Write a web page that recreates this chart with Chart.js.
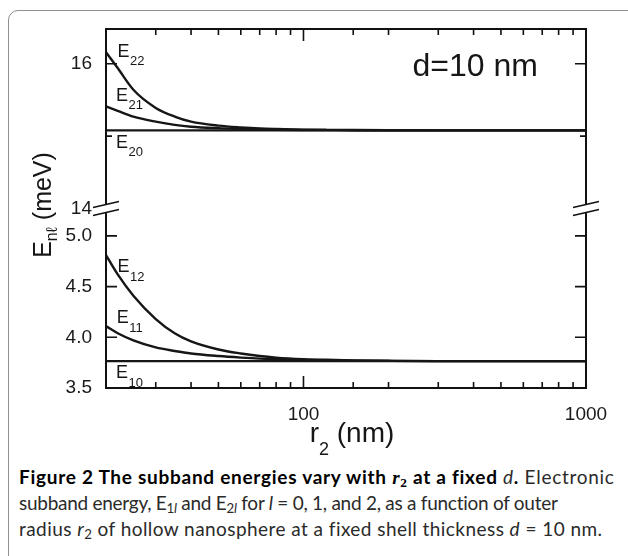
<!DOCTYPE html>
<html>
<head>
<meta charset="utf-8">
<script src="https://cdn.jsdelivr.net/npm/chart.js@4.4.1/dist/chart.umd.min.js"></script>
<style>
  body { margin: 0; width: 628px; height: 556px; overflow: hidden; position: relative; background: #fff; }
  #box { position: absolute; left: 8px; top: 10px; width: 660px; height: 600px; border: 1.4px solid #8f8f8f; border-radius: 10px; }
  #wrap { position: absolute; left: 0; top: 0; width: 628px; height: 462px; }
  #caption { position: absolute; left: 19px; top: 464px; white-space: nowrap; font-family: Lato, "Noto Sans", sans-serif;
             font-size: 19px; line-height: 26px; color: #2a2a2a; }
  #caption div { height: 26px; }
  #caption b { color: #000; }
  #caption .rr { font-family: "Liberation Serif", serif; font-style: italic; font-weight: bold; }
  #caption .s2 { font-family: "Liberation Serif", serif; font-weight: bold; }
  #caption sub { font-size: 0.7em; vertical-align: -0.25em; line-height: 0; }
</style>
</head>
<body>
<div id="box"></div>
<div id="wrap"><canvas id="chart"></canvas></div>
<div id="caption">
<div style="letter-spacing:0.72px"><b>Figure 2 The subband energies vary with <span class="rr">r</span><sub class="s2">2</sub> at a fixed </b><i>d</i><b>.</b> Electronic</div>
<div style="letter-spacing:-0.27px">subband energy, E<sub>1<i>l</i></sub> and E<sub>2<i>l</i></sub> for <i>l</i> = 0, 1, and 2, as a function of outer</div>
<div style="letter-spacing:0.44px">radius <i>r</i><sub>2</sub> of hollow nanosphere at a fixed shell thickness <i>d</i> = 10 nm.</div>
</div>
<script>
// outer radius r2 (nm)
const radius = [20, 22, 25, 30, 35, 40, 50, 60, 70, 80, 100, 120, 150, 200, 300, 500, 1000];

// upper panel (meV)
const e22 = [16.16, 15.94, 15.64, 15.39, 15.27, 15.20, 15.145, 15.12, 15.105, 15.098, 15.09, 15.087, 15.084, 15.082, 15.08, 15.08, 15.08];
const e21 = [15.41, 15.35, 15.27, 15.20, 15.155, 15.13, 15.11, 15.10, 15.093, 15.089, 15.085, 15.083, 15.082, 15.081, 15.08, 15.08, 15.08];
const e20 = [15.08, 15.08, 15.08, 15.08, 15.08, 15.08, 15.08, 15.08, 15.08, 15.08, 15.08, 15.08, 15.08, 15.08, 15.08, 15.08, 15.08];

// lower panel (meV)
const e12 = [4.81, 4.62, 4.41, 4.18, 4.04, 3.96, 3.88, 3.84, 3.815, 3.80, 3.785, 3.778, 3.772, 3.768, 3.765, 3.765, 3.765];
const e11 = [4.11, 4.04, 3.97, 3.90, 3.865, 3.84, 3.815, 3.80, 3.79, 3.785, 3.778, 3.773, 3.770, 3.767, 3.765, 3.765, 3.765];
const e10 = [3.765, 3.765, 3.765, 3.765, 3.765, 3.765, 3.765, 3.765, 3.765, 3.765, 3.765, 3.765, 3.765, 3.765, 3.765, 3.765, 3.765];

// axes
const xRange = [20, 1000];
const yTopRange = [14, 16.48];
const yBotRange = [3.5, 5.27];
const xLabelTicks = [100, 1000];
const yTopLabelTicks = [14, 16];
const yBotLabelTicks = [3.5, 4.0, 4.5, 5.0];

// curve names, placed in data coordinates
const curveLabels = [
  { sub: "22", x: 21.97, y: 16.10, axis: "yTop" },
  { sub: "21", x: 21.7, y: 15.49, axis: "yTop" },
  { sub: "20", x: 21.7, y: 14.84, axis: "yTop" },
  { sub: "12", x: 21.97, y: 4.64, axis: "yBot" },
  { sub: "11", x: 21.83, y: 4.14, axis: "yBot" },
  { sub: "10", x: 21.7, y: 3.595, axis: "yBot" }
];
const note = { text: "d=10 nm", x: 243, y: 15.83, axis: "yTop" };

const FONT = '"Liberation Sans", Arial, sans-serif';
Chart.defaults.font.family = FONT;
Chart.defaults.color = "#1a1a1a";

const pts = vals => radius.map((r, i) => ({ x: r, y: vals[i] }));
const line = (vals, axis) => ({
  data: pts(vals),
  yAxisID: axis,
  borderColor: "#161616",
  borderWidth: 2.4,
  pointRadius: 0,
  cubicInterpolationMode: "monotone",
  fill: false
});

const frame = {
  id: "frame",
  afterDatasetsDraw(chart) {
    const { ctx, chartArea: a, scales } = chart;
    const xs = scales.x, yt = scales.yTop, yb = scales.yBot;
    const brk = yt.bottom;
    ctx.save();
    ctx.strokeStyle = "#111";
    ctx.lineWidth = 2;
    ctx.beginPath();
    ctx.moveTo(a.left - 1, a.top); ctx.lineTo(a.right + 1, a.top);
    ctx.moveTo(a.left - 1, a.bottom); ctx.lineTo(a.right + 1, a.bottom);
    [a.left, a.right].forEach(ax => {
      ctx.moveTo(ax, a.top); ctx.lineTo(ax, brk - 4);
      ctx.moveTo(ax, brk + 4); ctx.lineTo(ax, a.bottom);
    });
    ctx.stroke();

    // inward ticks
    ctx.lineWidth = 1.6;
    ctx.beginPath();
    xs.ticks.forEach(t => {
      const px = xs.getPixelForValue(t.value);
      if (px <= a.left + 1 || px >= a.right - 1) return;
      const len = xLabelTicks.includes(t.value) ? 12 : 6;
      ctx.moveTo(px, a.bottom); ctx.lineTo(px, a.bottom - len);
      ctx.moveTo(px, a.top); ctx.lineTo(px, a.top + len);
    });
    [[yt, yTopLabelTicks], [yb, yBotLabelTicks]].forEach(([s, major]) => {
      s.ticks.forEach(t => {
        const py = s.getPixelForValue(t.value);
        if (Math.abs(py - brk) < 3 || py >= a.bottom - 1 || py <= a.top + 1) return;
        const len = major.some(m => Math.abs(m - t.value) < 1e-6) ? 11 : 6;
        ctx.moveTo(a.left, py); ctx.lineTo(a.left + len, py);
        ctx.moveTo(a.right, py); ctx.lineTo(a.right - len, py);
      });
    });
    ctx.stroke();

    // axis break marks
    ctx.beginPath();
    [a.left, a.right].forEach(ax => {
      ctx.moveTo(ax - 13, brk - 1); ctx.lineTo(ax + 13, brk - 7);
      ctx.moveTo(ax - 13, brk + 7); ctx.lineTo(ax + 13, brk + 1);
    });
    ctx.stroke();
    ctx.restore();
  },
  afterDraw(chart) {
    const { ctx, scales } = chart;
    ctx.save();
    ctx.fillStyle = "#161616";
    ctx.textBaseline = "alphabetic";
    ctx.textAlign = "left";

    curveLabels.forEach(l => {
      const px = scales.x.getPixelForValue(l.x);
      const py = scales[l.axis].getPixelForValue(l.y);
      ctx.font = "18px " + FONT;
      ctx.fillText("E", px, py);
      const w = ctx.measureText("E").width;
      ctx.font = "13px " + FONT;
      ctx.fillText(l.sub, px + w + 0.5, py + 8.5);
    });

    ctx.font = "32px " + FONT;
    ctx.fillText(note.text, scales.x.getPixelForValue(note.x), scales[note.axis].getPixelForValue(note.y));

    // x title: r2 (nm)
    ctx.font = "28px " + FONT;
    const wr = ctx.measureText("r").width;
    const wn = ctx.measureText(" (nm)").width;
    ctx.font = "18px " + FONT;
    const w2 = ctx.measureText("2").width;
    const x0 = 352 - (wr + w2 + wn) / 2;
    const by = 442;
    ctx.font = "28px " + FONT;
    ctx.fillText("r", x0, by);
    ctx.font = "18px " + FONT;
    ctx.fillText("2", x0 + wr, by + 13);
    ctx.font = "28px " + FONT;
    ctx.fillText(" (nm)", x0 + wr + w2, by);

    // y title: E_nl (meV)
    ctx.translate(51, 205);
    ctx.rotate(-Math.PI / 2);
    ctx.font = "25px " + FONT;
    const wE = ctx.measureText("E").width;
    const wm = ctx.measureText(" (meV)").width;
    ctx.font = "16px " + FONT;
    const ws = ctx.measureText("n\u2113").width;
    const s0 = -(wE + ws + wm) / 2;
    ctx.font = "25px " + FONT;
    ctx.fillText("E", s0, 0);
    ctx.font = "16px " + FONT;
    ctx.fillText("n\u2113", s0 + wE, 6);
    ctx.font = "25px " + FONT;
    ctx.fillText(" (meV)", s0 + wE + ws, 0);
    ctx.restore();
  }
};

new Chart(document.getElementById("chart"), {
  type: "line",
  data: {
    datasets: [
      line(e22, "yTop"), line(e21, "yTop"), line(e20, "yTop"),
      line(e12, "yBot"), line(e11, "yBot"), line(e10, "yBot")
    ]
  },
  options: {
    responsive: true,
    maintainAspectRatio: false,
    animation: false,
    layout: { padding: { top: 29, right: 42, left: 0, bottom: 0 } },
    plugins: { legend: { display: false }, tooltip: { enabled: false } },
    scales: {
      x: {
        type: "logarithmic",
        min: xRange[0],
        max: xRange[1],
        grid: { display: false, drawTicks: false },
        border: { display: false },
        ticks: {
          autoSkip: false,
          maxRotation: 0,
          padding: 15,
          font: { size: 19 },
          callback: v => (xLabelTicks.includes(v) ? String(v) : "")
        },
        afterFit: s => { s.height = 74; }
      },
      yTop: {
        type: "linear",
        position: "left",
        stack: "energy",
        stackWeight: 1,
        weight: 1,
        min: yTopRange[0],
        max: yTopRange[1],
        grid: { display: false, drawTicks: false },
        border: { display: false },
        ticks: {
          stepSize: 1,
          includeBounds: false,
          padding: 14,
          font: { size: 19 },
          callback: v => (yTopLabelTicks.includes(v) ? String(v) : "")
        },
        afterFit: s => { s.width = 106; }
      },
      yBot: {
        type: "linear",
        position: "left",
        stack: "energy",
        stackWeight: 1,
        weight: 0,
        min: yBotRange[0],
        max: yBotRange[1],
        grid: { display: false, drawTicks: false },
        border: { display: false },
        afterBuildTicks: s => { s.ticks = s.ticks.filter(t => t.value <= 5.0001); },
        ticks: {
          stepSize: 0.25,
          includeBounds: false,
          padding: 14,
          font: { size: 19 },
          callback: v => (yBotLabelTicks.some(m => Math.abs(m - v) < 1e-6) ? v.toFixed(1) : "")
        },
        afterFit: s => { s.width = 106; }
      }
    }
  },
  plugins: [frame]
});
</script>
</body>
</html>
